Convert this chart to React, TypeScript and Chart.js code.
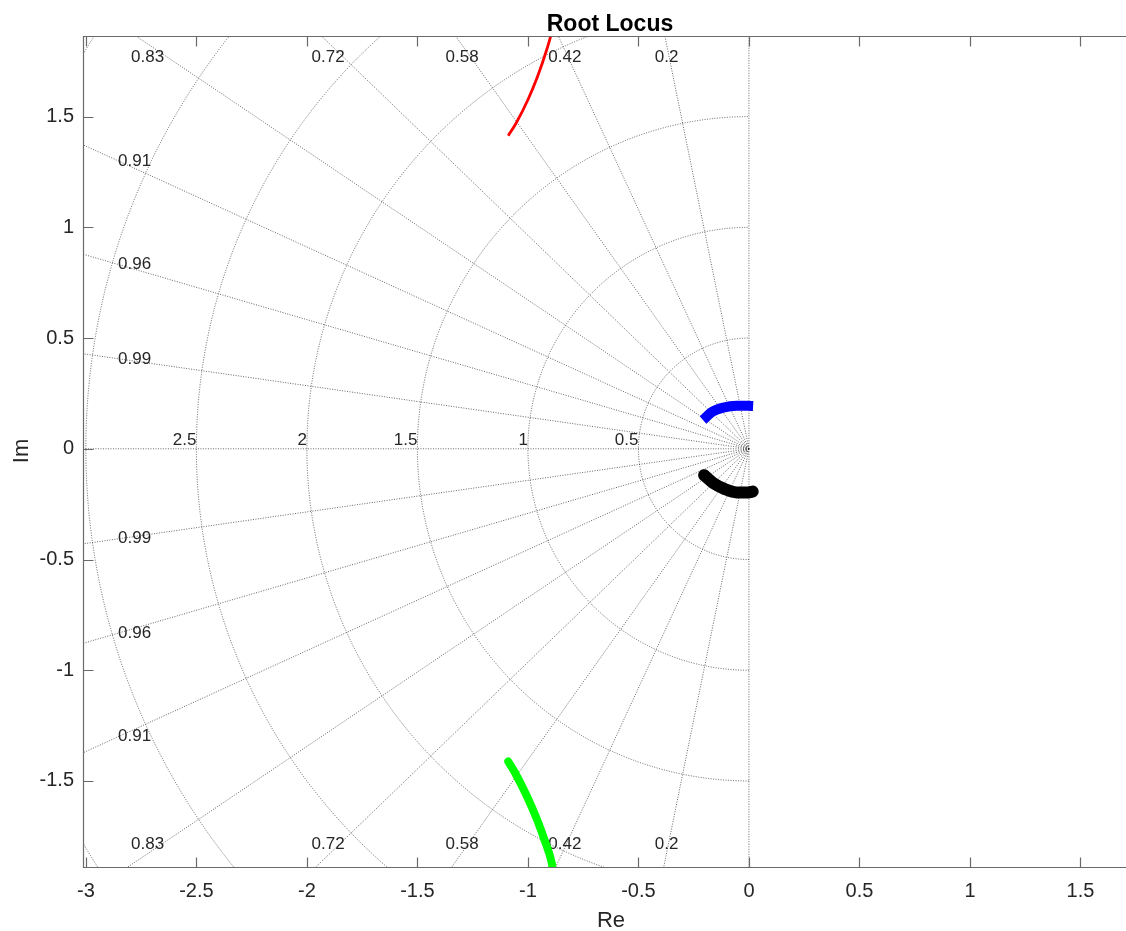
import React, { useEffect, useRef } from "react";
import { Chart, registerables } from "chart.js";

Chart.register(...registerables);

// ---- data ----
const xTicks = [-3, -2.5, -2, -1.5, -1, -0.5, 0, 0.5, 1, 1.5];
const yTicks = [-1.5, -1, -0.5, 0, 0.5, 1, 1.5];
const xRange = [-3.013, 1.706];
const yRange = [-1.893, 1.864];

const zetaValues = [0.2, 0.42, 0.58, 0.72, 0.83, 0.91, 0.96, 0.99];
const zetaTopLabels = [0.2, 0.42, 0.58, 0.72, 0.83];
const zetaSideLabels = [0.91, 0.96, 0.99];
const wnValues = [0.5, 1, 1.5, 2, 2.5, 3, 3.5];
const wnLabels = [0.5, 1, 1.5, 2, 2.5];

// root locus branches [Re, Im]
const branchRed = [
  [-1.089, 1.414],
  [-1.053, 1.471],
  [-1.0, 1.576],
  [-0.956, 1.682],
  [-0.915, 1.802],
  [-0.895, 1.87],
];
const branchGreen = [
  [-1.089, -1.412],
  [-1.057, -1.465],
  [-1.004, -1.57],
  [-0.958, -1.676],
  [-0.925, -1.766],
  [-0.892, -1.871],
  [-0.887, -1.902],
];
const branchBlue = [
  [-0.208, 0.13],
  [-0.166, 0.167],
  [-0.116, 0.186],
  [-0.056, 0.194],
  [-0.003, 0.194],
  [0.019, 0.193],
];
const branchBlack = [
  [-0.203, -0.119],
  [-0.161, -0.155],
  [-0.109, -0.182],
  [-0.056, -0.197],
  [-0.003, -0.197],
  [0.017, -0.193],
];

const FONT = "'Liberation Sans', Arial, Helvetica, sans-serif";
const TEXT = "#262626";
const GRID = "rgba(30,30,30,0.9)";
const AXIS = "#6a6a6a";

const toPts = (a: number[][]) => a.map(([x, y]) => ({ x, y }));

const sgridPlugin = {
  id: "sgrid",
  beforeDatasetsDraw(chart: any) {
    const { ctx, chartArea: a, scales } = chart;
    const x = scales.x;
    const y = scales.y;
    const ox = x.getPixelForValue(0);
    const oy = y.getPixelForValue(0);
    ctx.save();
    ctx.beginPath();
    ctx.rect(a.left, a.top, a.right - a.left, a.bottom - a.top);
    ctx.clip();
    ctx.strokeStyle = GRID;
    ctx.lineWidth = 0.75;
    ctx.setLineDash([1, 1.5]);
    const allZ = [0, ...zetaValues, 1];
    for (const z of allZ) {
      const s = Math.sqrt(1 - z * z);
      for (const sign of [1, -1]) {
        if (z === 1 && sign === -1) continue;
        ctx.beginPath();
        ctx.moveTo(ox, oy);
        ctx.lineTo(x.getPixelForValue(-10 * z), y.getPixelForValue(sign * 10 * s));
        ctx.stroke();
      }
    }
    for (const w of wnValues) {
      const rx = ox - x.getPixelForValue(-w);
      const ry = y.getPixelForValue(-w) - oy;
      ctx.beginPath();
      ctx.ellipse(ox, oy, rx, ry, 0, Math.PI / 2, (3 * Math.PI) / 2);
      ctx.stroke();
    }
    ctx.setLineDash([]);
    // labels
    ctx.fillStyle = TEXT;
    ctx.font = `17px ${FONT}`;
    ctx.textAlign = "left";
    ctx.textBaseline = "middle";
    for (const z of zetaTopLabels) {
      const r = z / Math.sqrt(1 - z * z);
      let lx = x.getPixelForValue(-yRange[1] * r) - 10;
      if (lx < a.left + 45) lx = a.left + 48;
      ctx.fillText(String(z), lx, y.getPixelForValue(1.77));
      ctx.fillText(String(z), lx, y.getPixelForValue(-1.785));
    }
    for (const z of zetaSideLabels) {
      const s = Math.sqrt(1 - z * z) / z;
      const lx = a.left + 35;
      ctx.fillText(String(z), lx, y.getPixelForValue(2.85 * s));
      ctx.fillText(String(z), lx, y.getPixelForValue(-2.85 * s));
    }
    ctx.textAlign = "right";
    ctx.textBaseline = "alphabetic";
    for (const w of wnLabels) {
      ctx.fillText(String(w), x.getPixelForValue(-w), oy - 4);
    }
    ctx.restore();
  },
};

const framePlugin = {
  id: "frame",
  afterDraw(chart: any) {
    const { ctx, chartArea: a, scales } = chart;
    const x = scales.x;
    const y = scales.y;
    ctx.save();
    ctx.strokeStyle = AXIS;
    ctx.lineWidth = 1.2;
    const top = Math.round(a.top) + 0.5;
    const bot = Math.round(a.bottom) - 0.5;
    const left = Math.round(a.left) + 0.5;
    ctx.beginPath();
    ctx.moveTo(a.right, top);
    ctx.lineTo(left, top);
    ctx.lineTo(left, bot);
    ctx.lineTo(a.right, bot);
    ctx.stroke();
    const tl = 10;
    ctx.beginPath();
    for (const v of xTicks) {
      const px = Math.round(x.getPixelForValue(v)) + 0.5;
      ctx.moveTo(px, bot);
      ctx.lineTo(px, bot - tl);
      ctx.moveTo(px, top);
      ctx.lineTo(px, top + tl);
    }
    for (const v of yTicks) {
      const py = Math.round(y.getPixelForValue(v)) + 0.5;
      ctx.moveTo(left, py);
      ctx.lineTo(left + tl, py);
    }
    ctx.stroke();
    // titles
    ctx.fillStyle = "#000";
    ctx.textAlign = "center";
    ctx.textBaseline = "alphabetic";
    ctx.font = `bold 23px ${FONT}`;
    ctx.fillText("Root Locus", 610, 30.5);
    ctx.fillStyle = TEXT;
    ctx.font = `22px ${FONT}`;
    ctx.fillText("Re", 611, 926.5);
    ctx.translate(28, 451);
    ctx.rotate(-Math.PI / 2);
    ctx.fillText("Im", 0, 0);
    ctx.restore();
  },
};

export default function App() {
  const ref = useRef<HTMLCanvasElement | null>(null);
  useEffect(() => {
    document.body.style.margin = "0";
    const canvas = ref.current;
    if (!canvas) return;
    const chart = new Chart(canvas, {
      type: "scatter",
      data: {
        datasets: [
          {
            data: toPts(branchRed),
            showLine: true,
            borderColor: "#ff0000",
            borderWidth: 2.8,
            pointRadius: 0,
            cubicInterpolationMode: "monotone",
          },
          {
            data: toPts(branchGreen),
            showLine: true,
            borderColor: "#00ff00",
            borderWidth: 8,
            borderCapStyle: "round",
            pointRadius: 0,
            cubicInterpolationMode: "monotone",
          },
          {
            data: toPts(branchBlue),
            showLine: true,
            borderColor: "#0000ff",
            borderWidth: 10,
            borderCapStyle: "butt",
            pointRadius: 0,
            cubicInterpolationMode: "monotone",
          },
          {
            data: toPts(branchBlack),
            showLine: true,
            borderColor: "#000000",
            borderWidth: 12,
            borderCapStyle: "round",
            pointRadius: 0,
            cubicInterpolationMode: "monotone",
          },
        ],
      } as any,
      options: {
        animation: false,
        responsive: false,
        events: [],
        layout: { padding: { top: 36, left: 0, right: 0, bottom: 0 } },
        plugins: {
          legend: { display: false },
          tooltip: { enabled: false },
          title: { display: false },
        },
        scales: {
          x: {
            type: "linear",
            min: xRange[0],
            max: xRange[1],
            grid: { display: false, drawTicks: false },
            border: { display: false },
            ticks: {
              font: { size: 20, family: FONT },
              color: TEXT,
              padding: 11,
              maxRotation: 0,
              autoSkip: false,
              callback: (v: any) => String(v),
            },
            afterBuildTicks: (s: any) => {
              s.ticks = xTicks.map((v) => ({ value: v }));
            },
            afterFit: (s: any) => {
              s.height = 63;
            },
          },
          y: {
            type: "linear",
            min: yRange[0],
            max: yRange[1],
            grid: { display: false, drawTicks: false },
            border: { display: false },
            ticks: {
              font: { size: 20, family: FONT },
              color: TEXT,
              padding: 9,
              autoSkip: false,
              callback: (v: any) => String(v),
            },
            afterBuildTicks: (s: any) => {
              s.ticks = yTicks.map((v) => ({ value: v }));
            },
            afterFit: (s: any) => {
              s.width = 83;
            },
          },
        },
      } as any,
      plugins: [sgridPlugin, framePlugin],
    });
    return () => chart.destroy();
  }, []);
  return (
    <div style={{ width: 1126, height: 931, background: "#fff" }}>
      <canvas ref={ref} width={1126} height={931} style={{ display: "block" }} />
    </div>
  );
}
